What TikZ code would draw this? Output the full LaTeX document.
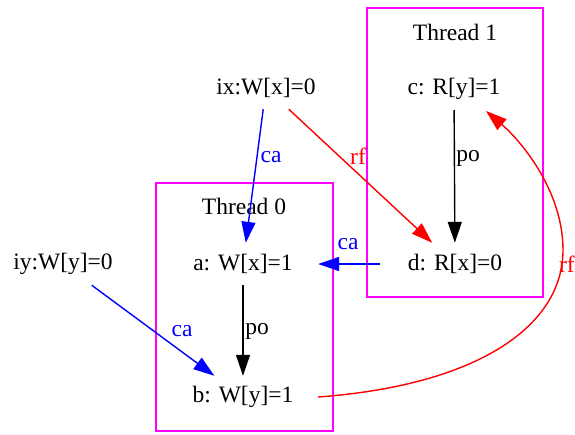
\documentclass[tikz,border=0pt]{standalone}
\usepackage{fontspec}
\setmainfont{Liberation Serif}
\usetikzlibrary{arrows.meta}
\definecolor{clmag}{RGB}{255,0,255}
\definecolor{edred}{RGB}{255,0,0}
\definecolor{edblue}{RGB}{0,0,255}
\begin{document}
\begin{tikzpicture}[x=1pt,y=-1pt,
  txt/.style={font=\fontsize{23.5}{28}\selectfont, inner sep=0pt},
  ev/.style={txt, shape=rectangle, minimum width=150pt, minimum height=42pt},
  lab/.style={txt},
  cluster/.style={draw=clmag, line width=1.4pt, shape=rectangle, inner sep=0pt},
  edge/.style={line width=1.4pt, -{Triangle[length=21pt,width=14pt]}},
]
\useasboundingbox (0,0) rectangle (575,434);
\clip (0,0) rectangle (575,434);
% clusters
\node[cluster, minimum width=176pt, minimum height=289pt] (t1) at (455,152.5) {};
\node[cluster, minimum width=177pt, minimum height=248pt] (t0) at (244.5,307) {};
\node[txt] (t1lab) at (455,32) {Thread 1};
\node[txt] (t0lab) at (244,206) {Thread 0};
% events
\node[ev] (ix) at (266,88) {ix:W[x]=0};
\node[ev] (iy) at (63,264) {iy:W[y]=0};
\node[ev] (a) at (243,264) {a: W[x]=1};
\node[ev] (b) at (243,397) {b: W[y]=1};
\node[ev] (c) at (454,89) {c: R[y]=1};
\node[ev] (d) at (455,264) {d: R[x]=0};
\coordinate (cin) at (486,111);
% edges
\draw[edge, edblue] (ix) -- (a);
\node[lab, text=edblue] (l1) at (271,157) {ca};
\draw[edge, edred] (ix) -- (d);
\node[lab, text=edred] (l2) at (358,156) {rf};
\draw[edge] (c) -- (d);
\node[lab] (l3) at (468,158) {po};
\draw[edge, edblue] (d.west) -- (a.east);
\node[lab, text=edblue] (l4) at (348,244) {ca};
\draw[edge] (a) -- (b);
\node[lab] (l5) at (257,331) {po};
\draw[edge, edblue] (iy) -- (b);
\node[lab, text=edblue] (l6) at (182,331) {ca};
\draw[edge, edred] (b.east) .. controls (480,385) and (563,325) .. (563,250)
  .. controls (563,190) and (520,140) .. (cin);
\node[lab, text=edred, anchor=east] (l7) at (575,264) {rf};
\end{tikzpicture}
\end{document}
